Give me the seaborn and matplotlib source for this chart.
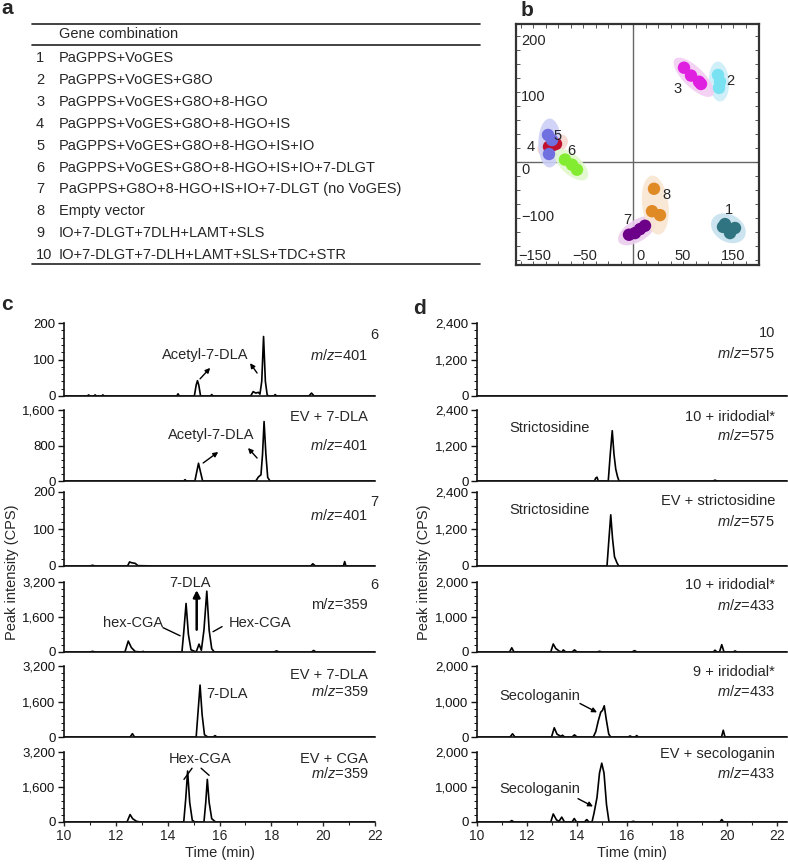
import numpy as np
import pandas as pd
import matplotlib
matplotlib.use("Agg")
import matplotlib.pyplot as plt
import seaborn as sns
from matplotlib.patches import Ellipse
from matplotlib.ticker import AutoMinorLocator, FuncFormatter, MultipleLocator

sns.set_theme(style="ticks")
plt.rcParams['font.family'] = ['Liberation Sans', 'DejaVu Sans']
plt.rcParams['mathtext.fontset'] = 'custom'
plt.rcParams['mathtext.it'] = 'Liberation Sans:italic'
plt.rcParams['mathtext.rm'] = 'Liberation Sans'

# ---- panel a: gene combinations
combo_ids = ["1", "2", "3", "4", "5", "6", "7", "8", "9", "10"]
combos = ["PaGPPS+VoGES", "PaGPPS+VoGES+G8O", "PaGPPS+VoGES+G8O+8-HGO",
          "PaGPPS+VoGES+G8O+8-HGO+IS", "PaGPPS+VoGES+G8O+8-HGO+IS+IO",
          "PaGPPS+VoGES+G8O+8-HGO+IS+IO+7-DLGT",
          "PaGPPS+G8O+8-HGO+IS+IO+7-DLGT (no VoGES)", "Empty vector",
          "IO+7-DLGT+7DLH+LAMT+SLS", "IO+7-DLGT+7-DLH+LAMT+SLS+TDC+STR"]

# ---- panel b: PCA scores
pca_group = ["1"] * 5 + ["2"] * 3 + ["3"] * 4 + ["4"] * 3 + ["5"] * 3 + ["6"] * 3 + ["7"] * 4 + ["8"] * 3
pca_x = [180, 192, 204, 194, 184, 170, 174, 172, 102, 116, 132, 136, -160, -154, -168,
         -170, -162, -168, -136, -122, -112, -8, 4, 14, 24, 42, 38, 54]
pca_y = [-116, -120, -118, -127, -111, 155, 143, 132, 168, 154, 143, 139, 30, 32, 27,
         48, 39, 14, 4, -5, -14, -130, -127, -120, -114, -48, -88, -95]
pca_colors = {"1": "#2f7480", "2": "#78e2f2", "3": "#e020e0", "4": "#c0102e",
              "5": "#7070e0", "6": "#84ec30", "7": "#6c0088", "8": "#e08a26"}
halo_colors = {"1": "#c6e2ee", "2": "#cceef8", "3": "#f2cef2", "4": "#f6d6d0",
               "5": "#ccd0f6", "6": "#e0f8cc", "7": "#eacdee", "8": "#f9e6d2"}
pca_label_pos = {"1": (192, -86), "2": (194, 145), "3": (90, 130), "4": (-204, 27),
                 "5": (-150, 46), "6": (-124, 20), "7": (-12, -104), "8": (66, -59)}

# ---- panel c: chromatograms (time, intensity vertices)
c1_t = [10, 10.9, 10.95, 11.0, 11.15, 11.2, 11.25, 11.45, 11.5, 11.55, 14.35, 14.4, 14.45, 15.03, 15.1,
        15.15, 15.2, 15.27, 15.65, 15.7, 15.75, 17.2, 17.3, 17.4, 17.5, 17.56, 17.63, 17.7, 17.77,
        17.84, 17.9, 18.1, 18.15, 18.2, 19.45, 19.55, 19.65, 22]
c1_y = [0, 0, 3, 0, 0, 3, 0, 0, 3, 0, 0, 6, 0, 0, 30, 42, 30, 0, 0, 4, 0, 0, 12, 8, 10, 5, 40, 163, 40,
        3, 0, 0, 4, 0, 0, 8, 0, 0]
c2_t = [10, 14.62, 14.67, 14.72, 15.05, 15.12, 15.19, 15.26, 15.35, 17.4, 17.5, 17.6, 17.66, 17.72,
        17.79, 17.86, 17.95, 22]
c2_y = [0, 0, 30, 0, 0, 200, 400, 220, 0, 0, 90, 140, 600, 1340, 600, 80, 0, 0]
c3_t = [10, 11.0, 11.1, 11.2, 12.45, 12.53, 12.6, 12.75, 12.85, 13.5, 19.52, 19.6, 19.7, 20.78, 20.83,
        20.88, 22]
c3_y = [0, 0, 2, 0, 0, 11, 9, 7, 1, 0, 0, 6, 0, 0, 12, 0, 0]
c4_t = [10, 11.0, 11.1, 11.2, 12.35, 12.48, 12.6, 12.75, 13.0, 13.05, 13.1, 14.55, 14.62, 14.71, 14.8,
        14.9, 15.1, 15.21, 15.3, 15.4, 15.51, 15.6, 15.7, 15.8, 18.1, 18.2, 18.3, 19.55, 19.63, 19.72, 22]
c4_y = [0, 0, 30, 0, 0, 500, 200, 20, 0, 30, 0, 0, 900, 2220, 800, 100, 0, 360, 80, 1000, 2780, 1000,
        150, 0, 0, 50, 0, 0, 70, 0, 0]
c5_t = [10, 12.55, 12.64, 12.72, 15.1, 15.17, 15.25, 15.33, 15.42, 15.55, 15.75, 15.83, 15.9, 22]
c5_y = [0, 0, 150, 0, 0, 1100, 2340, 1000, 100, 0, 0, 60, 0, 0]
c6_t = [10, 12.43, 12.55, 12.65, 12.8, 12.95, 14.62, 14.7, 14.77, 14.85, 14.95, 15.05, 15.4, 15.47,
        15.53, 15.6, 15.7, 15.85, 22]
c6_y = [0, 0, 340, 150, 30, 0, 0, 1100, 2330, 900, 80, 0, 0, 900, 1950, 900, 150, 0, 0]

# ---- panel d
d1_t = [10, 22.4]
d1_y = [0, 0]
d2_t = [10, 14.7, 14.75, 14.8, 14.85, 15.25, 15.33, 15.41, 15.48, 15.55, 15.62, 15.68, 19.45, 19.52,
        19.6, 22.4]
d2_y = [0, 0, 100, 130, 0, 0, 900, 1700, 900, 400, 150, 0, 0, 30, 0, 0]
d3_t = [10, 15.2, 15.28, 15.35, 15.42, 15.5, 15.6, 15.67, 22.4]
d3_y = [0, 0, 900, 1660, 900, 300, 100, 0, 0]
d4_t = [10, 11.3, 11.39, 11.48, 12.95, 13.05, 13.15, 13.3, 13.4, 13.45, 13.55, 13.8, 13.9, 14.0, 14.8,
        14.9, 15.0, 16.2, 16.3, 16.4, 19.45, 19.52, 19.6, 19.7, 19.79, 19.88, 20.25, 20.32, 20.4, 22.4]
d4_y = [0, 0, 120, 0, 0, 230, 100, 20, 0, 60, 0, 0, 60, 0, 0, 20, 0, 0, 40, 0, 0, 50, 0, 0, 210, 0, 0,
        30, 0, 0]
d5_t = [10, 11.32, 11.42, 11.52, 12.98, 13.09, 13.2, 13.35, 13.42, 13.5, 13.8, 13.9, 14.0, 14.65, 14.75,
        14.85, 14.95, 15.02, 15.09, 15.17, 15.27, 15.35, 16.05, 16.12, 16.2, 16.32, 16.39, 16.45, 19.78,
        19.85, 19.92, 22.4]
d5_y = [0, 0, 90, 0, 0, 260, 80, 20, 50, 0, 0, 60, 0, 0, 150, 450, 700, 750, 880, 500, 80, 0, 0, 30, 0,
        0, 40, 0, 0, 190, 0, 0]
d6_t = [10, 11.3, 11.39, 11.48, 12.95, 13.05, 13.18, 13.28, 13.39, 13.5, 13.8, 13.89, 13.98, 14.3, 14.39,
        14.48, 14.6, 14.68, 14.8, 14.9, 14.99, 15.08, 15.18, 15.28, 16.15, 16.25, 16.35, 19.72, 19.79,
        19.86, 22.4]
d6_y = [0, 0, 40, 0, 0, 230, 60, 20, 140, 0, 0, 100, 0, 0, 70, 0, 0, 250, 700, 1400, 1680, 1400, 500, 0,
        0, 20, 0, 0, 70, 0, 0]

c_traces = [(c1_t, c1_y), (c2_t, c2_y), (c3_t, c3_y), (c4_t, c4_y), (c5_t, c5_y), (c6_t, c6_y)]
d_traces = [(d1_t, d1_y), (d2_t, d2_y), (d3_t, d3_y), (d4_t, d4_y), (d5_t, d5_y), (d6_t, d6_y)]
c_ymax = [200, 1600, 200, 3200, 3200, 3200]
d_ymax = [2400, 2400, 2400, 2000, 2000, 2000]
c_names = ["6", "EV + 7-DLA", "7", "6", "EV + 7-DLA", "EV + CGA"]
c_mz = [r"$m/z$=401", r"$m/z$=401", r"$m/z$=401", "m/z=359", r"$m/z$=359", r"$m/z$=359"]
d_names = ["10", "10 + iridodial*", "EV + strictosidine", "10 + iridodial*", "9 + iridodial*",
           "EV + secologanin"]
d_mz = [r"$m/z$=575", r"$m/z$=575", r"$m/z$=575", r"$m/z$=433", r"$m/z$=433", r"$m/z$=433"]

W, H = 788, 867
fig = plt.figure(figsize=(W / 100, H / 100), dpi=100)


def rect(x0, y0, x1, y1):
    return [x0 / W, 1 - y1 / H, (x1 - x0) / W, (y1 - y0) / H]


# overlay in pixel coordinates, drawn above everything else
ov = fig.add_axes([0, 0, 1, 1])
ov.set_xlim(0, W)
ov.set_ylim(H, 0)
ov.axis("off")
ov.set_zorder(20)
ov.patch.set_alpha(0)

FS = 10.5
# panel letters
for lab, (px, py) in {"a": (7, 8), "b": (527, 11), "c": (7, 305), "d": (420, 308)}.items():
    ov.text(px, py, lab, fontsize=15, fontweight="bold", ha="center", va="center")

# ---- table (panel a)
for yl in [24, 45, 264]:
    ov.plot([32, 480], [yl, yl], color="#222222", lw=1.2)
ov.text(59, 34, "Gene combination", fontsize=FS, va="center")
for i, (cid, txt) in enumerate(zip(combo_ids, combos)):
    yy = 58 + i * 21.9
    ov.text(36, yy, cid, fontsize=FS, va="center")
    ov.text(59, yy, txt, fontsize=FS, va="center")

# ---- panel b
axb = fig.add_axes(rect(516, 24, 759, 265))
pca = pd.DataFrame({"group": pca_group, "x": pca_x, "y": pca_y})
axb.set_xlim(-234, 252)
axb.set_ylim(-184, 246)
axb.axhline(0, color="#666666", lw=1, zorder=0)
axb.axvline(0, color="#666666", lw=1, zorder=0)
for g, sub in pca.groupby("group"):
    xs, ys = sub["x"].to_numpy(float), sub["y"].to_numpy(float)
    cx, cy = xs.mean(), ys.mean()
    cov = np.cov(np.vstack([xs - cx, ys - cy]))
    vals, vecs = np.linalg.eigh(cov)
    major = vecs[:, 1]
    ang = np.degrees(np.arctan2(major[1], major[0]))
    pr_major = np.abs((xs - cx) * major[0] + (ys - cy) * major[1]).max()
    pr_minor = np.abs(-(xs - cx) * major[1] + (ys - cy) * major[0]).max()
    axb.add_patch(Ellipse((cx, cy), 2 * (pr_major + 24), 2 * (pr_minor + 18), angle=ang,
                          facecolor=halo_colors[g], edgecolor="none", alpha=0.9, zorder=1))
sns.scatterplot(data=pca, x="x", y="y", hue="group", palette=pca_colors, s=80,
                edgecolor="none", legend=False, ax=axb, zorder=3)
for g, (lx, ly) in pca_label_pos.items():
    axb.text(lx, ly, g, fontsize=FS, ha="center", va="center", zorder=4)
axb.set_xlabel("")
axb.set_ylabel("")
axb.set_xticks([])
axb.set_yticks([])
axb.xaxis.set_minor_locator(MultipleLocator(25))
axb.yaxis.set_minor_locator(MultipleLocator(25))
axb.tick_params(which="minor", direction="in", length=3, width=0.7, top=True, right=True,
                bottom=True, left=True, color="#555555")
for sp in axb.spines.values():
    sp.set_linewidth(1.6)
    sp.set_color("#333333")
for txt, px, py in [("200", 521, 41), ("100", 521, 97), ("0", 521, 170), ("\u2212100", 521, 217)]:
    ov.text(px, py, txt, fontsize=FS, ha="left", va="center")
for txt, px in [("\u2212150", 535), ("\u221250", 585), ("0", 641), ("50", 683), ("150", 733)]:
    ov.text(px, 256, txt, fontsize=FS, ha="center", va="center")

# ---- panels c, d
rows = [(323, 396), (410, 481), (492, 566), (582, 652), (666, 737), (752, 822)]
fmt = FuncFormatter(lambda v, p: f"{int(v):,}")


def chrom_axes(x0, x1, top, base, ymax, xmax, last):
    ax = fig.add_axes(rect(x0, top, x1, base))
    ax.patch.set_alpha(0)
    ax.set_xlim(10, xmax)
    ax.set_ylim(0, ymax)
    ax.set_yticks([0, ymax / 2, ymax])
    ax.yaxis.set_major_formatter(fmt)
    ax.yaxis.set_minor_locator(AutoMinorLocator(5))
    for s in ["top", "right"]:
        ax.spines[s].set_visible(False)
    for s in ["left", "bottom"]:
        ax.spines[s].set_linewidth(1.2)
        ax.spines[s].set_color("#111111")
    ax.tick_params(axis="y", which="major", length=4, width=1, labelsize=9.5, pad=2, colors="#111111")
    ax.tick_params(axis="y", which="minor", length=2, width=0.7, colors="#111111")
    if last:
        ax.set_xticks(range(10, 23, 2))
        ax.xaxis.set_minor_locator(MultipleLocator(1))
        ax.tick_params(axis="x", which="major", length=3, width=1, labelsize=10, pad=2)
        ax.tick_params(axis="x", which="minor", length=2, width=0.8)
        ax.set_xlabel("Time (min)", fontsize=FS, labelpad=2)
    else:
        ax.set_xticks([])
    return ax


axc, axd = [], []
for i, (top, base) in enumerate(rows):
    a = chrom_axes(64, 375, top, base, c_ymax[i], 22, i == 5)
    t, y = c_traces[i]
    sns.lineplot(x=t, y=y, ax=a, color="black", lw=1.2, estimator=None, sort=False)
    axc.append(a)
    b = chrom_axes(477, 787, top, base, d_ymax[i], 22.4, i == 5)
    t, y = d_traces[i]
    sns.lineplot(x=t, y=y, ax=b, color="black", lw=1.2, estimator=None, sort=False)
    axd.append(b)
    if i < 5:
        a.set_xlabel("")
        b.set_xlabel("")

# right-hand labels
c_name_y = [335, 417, 502, 585, 675, 759]
c_mz_y = [355, 445, 516, 605, 692, 774]
d_name_y = [333, 417, 501, 585, 672, 754]
d_mz_y = [353, 436, 522, 605, 691, 774]
for i in range(6):
    ov.text(378 if c_names[i] in ("6", "7") else 368, c_name_y[i], c_names[i], fontsize=FS,
            ha="right", va="center")
    ov.text(368, c_mz_y[i], c_mz[i], fontsize=FS, ha="right", va="center")
    ov.text(775, d_name_y[i], d_names[i], fontsize=FS, ha="right", va="center")
    ov.text(775, d_mz_y[i], d_mz[i], fontsize=FS, ha="right", va="center")

ov.text(12, 572, "Peak intensity (CPS)", fontsize=FS, rotation=90, ha="center", va="center")
ov.text(424, 572, "Peak intensity (CPS)", fontsize=FS, rotation=90, ha="center", va="center")

arr = dict(arrowstyle="-|>", color="black", lw=1, mutation_scale=7, shrinkA=0, shrinkB=0)
ln = dict(arrowstyle="-", color="black", lw=1, shrinkA=0, shrinkB=0)

a = axc[0]
a.text(15.44, 112, "Acetyl-7-DLA", fontsize=FS, ha="center", va="center")
a.annotate("", xy=(15.64, 77), xytext=(15.25, 47), arrowprops=arr)
a.annotate("", xy=(17.18, 90), xytext=(17.45, 63), arrowprops=arr)
a = axc[1]
a.text(15.68, 1037, "Acetyl-7-DLA", fontsize=FS, ha="center", va="center")
a.annotate("", xy=(15.95, 654), xytext=(15.37, 406), arrowprops=arr)
a.annotate("", xy=(17.10, 744), xytext=(17.45, 518), arrowprops=arr)
a = axc[3]
a.text(14.86, 3150, "7-DLA", fontsize=FS, ha="center", va="center")
a.annotate("", xy=(15.12, 2830), xytext=(15.12, 1020),
           arrowprops=dict(arrowstyle="-|>", color="black", lw=1.8, mutation_scale=10,
                           shrinkA=0, shrinkB=0))
a.text(12.66, 1345, "hex-CGA", fontsize=FS, ha="center", va="center")
a.annotate("", xy=(14.48, 742), xytext=(13.82, 1113), arrowprops=ln)
a.text(17.57, 1345, "Hex-CGA", fontsize=FS, ha="center", va="center")
a.annotate("", xy=(15.75, 928), xytext=(16.10, 1160), arrowprops=ln)
a = axc[4]
a.text(16.29, 1920, "7-DLA", fontsize=FS, ha="center", va="center")
a = axc[5]
a.text(15.25, 2875, "Hex-CGA", fontsize=FS, ha="center", va="center")
a.annotate("", xy=(14.63, 1948), xytext=(14.94, 2458), arrowprops=ln)
a.annotate("", xy=(15.6, 2133), xytext=(15.29, 2458), arrowprops=ln)

axd[1].text(12.92, 1792, "Strictosidine", fontsize=FS, ha="center", va="center")
axd[2].text(12.92, 1816, "Strictosidine", fontsize=FS, ha="center", va="center")
a = axd[4]
a.text(12.52, 1167, "Secologanin", fontsize=FS, ha="center", va="center")
a.annotate("", xy=(14.8, 694), xytext=(14.12, 944), arrowprops=arr)
a = axd[5]
a.text(12.52, 944, "Secologanin", fontsize=FS, ha="center", va="center")
a.annotate("", xy=(14.64, 444), xytext=(14.04, 667), arrowprops=arr)

fig.savefig("out.png", dpi=100)
